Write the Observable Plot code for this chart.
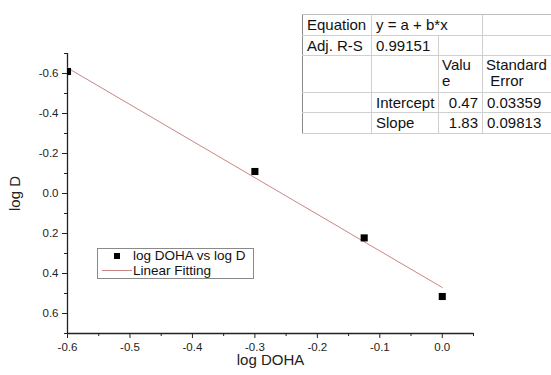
<!DOCTYPE html>
<html>
<head>
<meta charset="utf-8">
<script src="https://cdn.jsdelivr.net/npm/d3@7"></script>
<script src="https://cdn.jsdelivr.net/npm/@observablehq/plot@0.6"></script>
<style>
  html, body { margin: 0; padding: 0; background: #fff; }
  #wrap { position: relative; width: 551px; height: 375px; overflow: hidden; font-family: "Liberation Sans", Arial, sans-serif; }
  #chart { position: absolute; left: 0; top: 0; }
  #fit { position: absolute; left: 302px; top: 14px; border-collapse: collapse; table-layout: fixed; width: 270px; font-size: 15px; color: #111; }
  #fit td { border: 1px solid #cfcfcf; padding: 0 0 0 4px; vertical-align: middle; line-height: 16px; white-space: nowrap; overflow: hidden; }
  #fit tr:first-child td { border-top-color: #bdbdbd; }
  #fit td:first-child { border-left: 1px solid #8a8a8a; }
  #fit td.num { text-align: right; padding-right: 4px; }
  #fit td.top { vertical-align: top; padding-top: 1px; padding-left: 3px; }
  #legend { position: absolute; left: 97px; top: 248px; width: 155px; height: 29px; border: 1px solid #8a8a8a; background: #fff; font-size: 13.5px; color: #111; }
  #legend .row { position: absolute; left: 35px; height: 15px; line-height: 15px; white-space: nowrap; }
  #legend svg { position: absolute; left: 0; top: 0; }
</style>
</head>
<body>
<div id="wrap">
  <div id="chart"></div>
  <table id="fit">
    <colgroup><col style="width:69px"><col style="width:67px"><col style="width:44px"><col style="width:90px"></colgroup>
    <tr style="height:21px"><td>Equation</td><td colspan="2">y = a + b*x</td><td></td></tr>
    <tr style="height:20px"><td>Adj. R-S</td><td>0.99151</td><td></td><td></td></tr>
    <tr style="height:37px"><td></td><td></td><td class="top">Valu<br>e</td><td class="top">Standard<br>&nbsp;Error</td></tr>
    <tr style="height:20px"><td></td><td>Intercept</td><td class="num">0.47</td><td>0.03359</td></tr>
    <tr style="height:21px"><td></td><td>Slope</td><td class="num">1.83</td><td>0.09813</td></tr>
  </table>
  <div id="legend">
    <svg width="40" height="29">
      <rect x="16" y="4" width="6" height="6" fill="#000"></rect>
      <line x1="4" x2="34" y1="21.5" y2="21.5" stroke="#c98585" stroke-width="1"></line>
    </svg>
    <div class="row" style="top:-1px">log DOHA vs log D</div>
    <div class="row" style="top:14px">Linear Fitting</div>
  </div>
</div>
<script>
// Data
const xVals = [-0.6, -0.3, -0.125, 0.0];
const yVals = [-0.61, -0.11, 0.222, 0.515];
const fitX = [-0.6, 0.0];
const fitY = [-0.628, 0.47];
const xTicks = [-0.6, -0.5, -0.4, -0.3, -0.2, -0.1, 0.0];
const xMinor = [-0.55, -0.45, -0.35, -0.25, -0.15, -0.05, 0.05];
const yTicks = [-0.6, -0.4, -0.2, 0.0, 0.2, 0.4, 0.6];
const yMinor = [-0.7, -0.5, -0.3, -0.1, 0.1, 0.3, 0.5, 0.7];
const xTitle = ["log DOHA"];
const yTitle = ["log D"];

const points = xVals.map((x, i) => ({x, y: yVals[i]}));
const fit = fitX.map((x, i) => ({x, y: fitY[i]}));
const fmt = d => d.toFixed(1);

const chart = Plot.plot({
  width: 551,
  height: 375,
  marginLeft: 67,
  marginRight: 78,
  marginTop: 53,
  marginBottom: 42,
  style: {fontFamily: "'Liberation Sans', Arial, sans-serif", fontSize: "11.5px", color: "#222", background: "transparent"},
  x: {domain: [-0.6, 0.05]},
  y: {domain: [-0.7, 0.7], reverse: true},
  marks: [
    Plot.axisX(xMinor, {tickSize: 3, tickFormat: () => "", label: null, stroke: "#222"}),
    Plot.axisX(xTicks, {tickSize: 5, tickFormat: fmt, label: null, stroke: "#222", fill: "#222"}),
    Plot.axisY(yMinor, {tickSize: 3, tickFormat: () => "", label: null, stroke: "#222"}),
    Plot.axisY(yTicks, {tickSize: 5, tickFormat: fmt, label: null, stroke: "#222", fill: "#222"}),
    Plot.ruleX([-0.6], {stroke: "#222", strokeWidth: 1.3}),
    Plot.ruleY([0.7], {stroke: "#222", strokeWidth: 1.3}),
    Plot.line(fit, {x: "x", y: "y", stroke: "#c98585", strokeWidth: 1}),
    Plot.dot(points, {x: "x", y: "y", symbol: "square", r: 4, fill: "#000", stroke: null, clip: true}),
    Plot.text(xTitle, {frameAnchor: "bottom", dy: 27, lineAnchor: "middle", textAnchor: "middle", fontSize: 15, fill: "#222"}),
    Plot.text(yTitle, {frameAnchor: "left", dx: -52, rotate: -90, lineAnchor: "middle", textAnchor: "middle", fontSize: 15, fill: "#222"})
  ]
});
document.getElementById("chart").appendChild(chart);
</script>
</body>
</html>
